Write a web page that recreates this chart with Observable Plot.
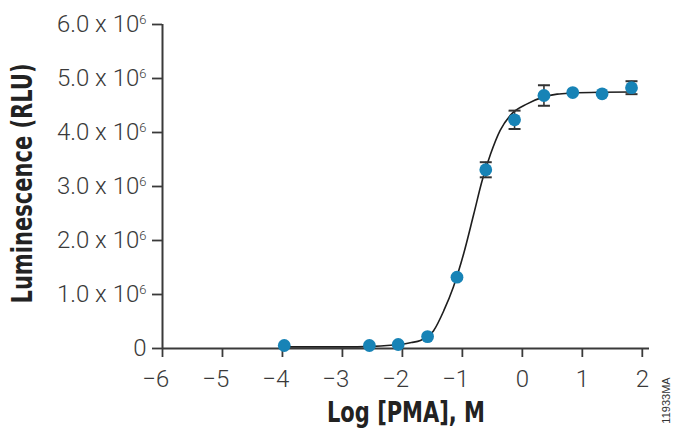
<!DOCTYPE html>
<html>
<head>
<meta charset="utf-8">
<script src="https://cdn.jsdelivr.net/npm/d3@7"></script>
<script src="https://cdn.jsdelivr.net/npm/@observablehq/plot@0.6"></script>
<style>
  html, body { margin: 0; padding: 0; background: #fff; }
  #chart svg { display: block; }
  #chart svg [aria-label^="x-axis"] line,
  #chart svg [aria-label^="x-axis"] path,
  #chart svg [aria-label^="y-axis"] line,
  #chart svg [aria-label^="y-axis"] path { stroke-width: 1.8px; stroke: #3a3a3a; }
</style>
</head>
<body>
<div id="chart"></div>
<script>
// Measured points: log [PMA] (M) and luminescence (RLU)
const logPMA = [-3.97, -2.55, -2.07, -1.58, -1.09, -0.61, -0.13, 0.36, 0.84, 1.33, 1.82];
const rlu    = [0.056e6, 0.056e6, 0.074e6, 0.22e6, 1.32e6, 3.31e6, 4.235e6, 4.685e6, 4.74e6, 4.717e6, 4.83e6];
const rluErr = [0, 0, 0, 0, 0, 0.14e6, 0.17e6, 0.19e6, 0, 0, 0.12e6];

// Fitted sigmoidal curve
const fitX = [-3.97, -3.0, -2.5, -2.2, -2.0, -1.85, -1.70, -1.48, -1.31, -1.15, -0.98, -0.81, -0.67, -0.53, -0.37, -0.20, 0.08, 0.36, 0.58, 0.84, 1.30, 1.82];
const fitY = [0.03e6, 0.03e6, 0.04e6, 0.06e6, 0.08e6, 0.11e6, 0.15e6, 0.33e6, 0.70e6, 1.14e6, 1.75e6, 2.49e6, 3.11e6, 3.60e6, 4.04e6, 4.32e6, 4.53e6, 4.66e6, 4.71e6, 4.73e6, 4.745e6, 4.75e6];

// Axis ticks and labels
const xTicks = [-6, -5, -4, -3, -2, -1, 0, 1, 2];
const yTicks = [0, 1e6, 2e6, 3e6, 4e6, 5e6, 6e6];
const yTickMantissa = ["0", "1.0", "2.0", "3.0", "4.0", "5.0", "6.0"];
const yTickExponent = "6";
const xTitle = "Log [PMA], M";
const yTitle = "Luminescence (RLU)";
const figureCode = "11933MA";

const points = logPMA.map((x, i) => ({x, y: rlu[i], err: rluErr[i]}));
const errPoints = points.filter(d => d.err > 0);
const fit = fitX.map((x, i) => ({x, y: fitY[i]}));

const capSymbol = {
  draw(context) { context.moveTo(-6, 0); context.lineTo(6, 0); }
};

const titleFont = "'DejaVu Sans Condensed', 'DejaVu Sans', sans-serif";

const chart = Plot.plot({
  width: 677,
  height: 436,
  marginLeft: 162,
  marginRight: 28,
  marginTop: 24,
  marginBottom: 88,
  style: {
    fontFamily: "Roboto, 'Liberation Sans', sans-serif",
    fontWeight: 300,
    fontSize: "24px",
    color: "#3a3a3a",
    background: "#fff",
    overflow: "visible"
  },
  x: {
    domain: [-6, 2.12],
    ticks: xTicks,
    tickSize: 9,
    tickPadding: 12,
    tickFormat: d => d < 0 ? "\u2212" + Math.abs(d) + "\u2007" : String(d),
    label: null
  },
  y: {
    domain: [0, 6e6],
    ticks: yTicks,
    tickSize: 10,
    tickPadding: 6,
    tickFormat: d => {
      const i = yTicks.indexOf(d);
      return d === 0 ? yTickMantissa[i] : yTickMantissa[i] + " x 10^" + yTickExponent;
    },
    label: null
  },
  marks: [
    Plot.ruleX([-6], {stroke: "#3a3a3a", strokeWidth: 2}),
    Plot.ruleY([0], {stroke: "#3a3a3a", strokeWidth: 2}),
    Plot.line(fit, {x: "x", y: "y", stroke: "#1e1e1e", strokeWidth: 1.6, curve: "monotone-x"}),
    Plot.ruleX(errPoints, {x: "x", y1: d => d.y - d.err, y2: d => d.y + d.err, stroke: "#333", strokeWidth: 1.6}),
    Plot.dot(errPoints, {x: "x", y: d => d.y + d.err, symbol: capSymbol, r: 6, fill: "none", stroke: "#333", strokeWidth: 2}),
    Plot.dot(errPoints, {x: "x", y: d => d.y - d.err, symbol: capSymbol, r: 6, fill: "none", stroke: "#333", strokeWidth: 2}),
    Plot.dot(points, {x: "x", y: "y", r: 6.4, fill: "#1783b6"}),
    Plot.text([xTitle], {frameAnchor: "bottom", textAnchor: "middle", dy: 73, text: d => d, fontFamily: titleFont, fontWeight: "bold", fontSize: 29, fill: "#222"}),
    Plot.text([yTitle], {frameAnchor: "left", textAnchor: "middle", dx: -139, dy: -3, rotate: -90, text: d => d, fontFamily: titleFont, fontWeight: "bold", fontSize: 28, fill: "#222"}),
    Plot.text([figureCode], {frameAnchor: "bottom-right", textAnchor: "middle", dx: 20, dy: 52, rotate: -90, text: d => d, fontFamily: "'Liberation Sans', sans-serif", fontWeight: 400, fontSize: 11, fill: "#333"})
  ]
});

// Turn "x 10^6" into a real superscript; condense the bold titles
d3.select(chart).selectAll("text").each(function() {
  const t = this.textContent;
  if (t === xTitle || t === yTitle) {
    const target = t === xTitle ? 158 : 240;
    d3.select(this).attr("textLength", target).attr("lengthAdjust", "spacingAndGlyphs");
    return;
  }
  const m = t.match(/^(.*) x 10\^(\d+)$/);
  if (!m) return;
  const sel = d3.select(this);
  sel.text(null);
  sel.append("tspan").text(m[1] + " x 10");
  sel.append("tspan").attr("font-size", 13).attr("dy", -8).text(m[2]);
});

document.getElementById("chart").appendChild(chart);
</script>
</body>
</html>
